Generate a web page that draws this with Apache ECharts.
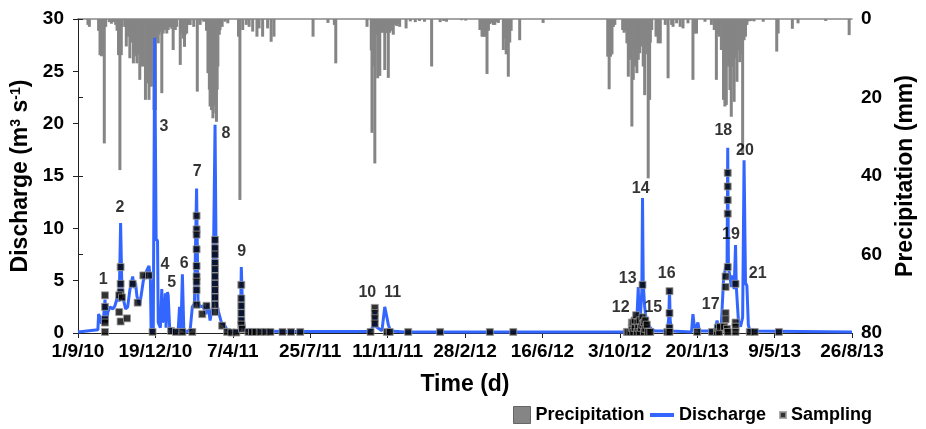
<!DOCTYPE html>
<html>
<head>
<meta charset="utf-8">
<script src="https://cdn.jsdelivr.net/npm/echarts@6/dist/echarts.min.js"></script>
<style>
  html,body{margin:0;padding:0;background:#fff;}
  #chart{width:926px;height:429px;}
</style>
</head>
<body>
<div id="chart"></div>
<script>
// x = days since 1/9/10 ; ticks every 109 days
const tickLabels=['1/9/10','19/12/10','7/4/11','25/7/11','11/11/11','28/2/12','16/6/12','3/10/12','20/1/13','9/5/13','26/8/13'];

// daily precipitation (mm), [day, mm]
const precipitation=[
  [14,1.5],[16,2.0],[29,3.0],[31,9.2],[33,9.5],[35,9.0],[37,31.7],[39,2.0],[44,0.8],[47,1.2],[50,0.8],[53,1.5],[55,3.0],
  [57,9.2],[59,38.5],[61,9.2],[62,2.0],[64,0.3],[66,2.0],[68,7.0],[70,4.5],[71,3.7],[73,10.0],[75,6.0],[76,5.3],[78,11.3],
  [79,9.0],[80,7.9],[82,9.5],[83,11.3],[84,9.0],[85,8.7],[87,15.5],[88,11.0],[89,12.1],[91,10.0],[92,12.1],[93,9.0],[95,20.6],
  [96,14.0],[98,16.4],[99,12.0],[100,20.6],[101,15.0],[102,17.2],[103,12.0],[104,17.2],[105,15.0],[107,23.2],[108,8.0],[109,23.2],
  [110,5.0],[111,3.7],[113,6.2],[114,4.0],[116,3.2],[118,18.9],[120,3.7],[121,2.5],[123,2.8],[125,3.7],[127,2.8],[129,2.0],
  [130,2.0],[132,2.5],[134,7.9],[136,2.5],[137,2.8],[139,2.0],[144,11.7],[146,3.7],[148,5.0],[150,7.1],[151,4.0],[153,3.7],
  [156,1.5],[158,1.5],[163,2.0],[168,18.5],[172,1.5],[177,0.7],[181,3.0],[183,13.8],[185,18.0],[186,22.3],[187,20.0],[188,23.2],
  [189,22.0],[190,25.3],[191,22.0],[193,20.6],[194,24.0],[195,26.2],[196,18.0],[197,12.1],[199,4.0],[200,2.8],[203,2.0],[207,0.7],
  [211,1.1],[226,4.5],[228,46.1],[232,2.8],[237,1.5],[241,2.0],[246,3.2],[252,4.5],[255,2.4],[260,4.5],[267,2.4],[272,5.8],[276,4.5],
  [331,4.5],[352,1.0],[361,1.5],[363,11.3],[407,2.0],[413,8.0],[414,29.0],[416,12.0],[418,36.8],[420,4.0],[422,15.1],[424,4.0],
  [425,14.5],[427,3.5],[429,3.3],[430,3.5],[432,13.0],[434,3.6],[435,3.0],[437,15.0],[439,3.5],[441,3.0],[444,4.0],[447,1.5],
  [449,1.8],[451,1.2],[453,2.0],[462,2.4],[468,0.6],[475,0.8],[481,0.5],[488,0.7],[498,12.1],[510,0.8],[515,0.5],[519,0.7],
  [540,0.3],[546,0.4],[566,2.8],[569,4.5],[571,4.5],[573,4.5],[576,14.0],[578,3.0],[580,1.3],[582,1.0],[585,1.5],[587,1.5],
  [590,0.8],[592,1.0],[599,7.9],[601,5.0],[603,9.0],[605,5.0],[606,14.7],[608,6.0],[610,3.0],[622,5.4],[655,1.0],
  [746,9.6],[748,17.9],[750,9.6],[752,9.0],[754,2.0],[756,1.5],[767,2.8],[769,3.5],[771,3.0],[773,6.2],[775,14.7],[777,10.4],
  [779,8.0],[780,27.4],[782,15.5],[783,10.0],[784,12.1],[786,9.0],[787,13.8],[789,10.4],[790,8.0],[791,8.7],[793,7.0],[794,6.2],
  [796,12.1],[798,19.4],[799,9.0],[801,8.7],[803,40.6],[805,20.6],[806,6.0],[808,2.8],[814,4.5],[817,6.2],[820,6.2],[827,1.5],
  [831,15.1],[836,1.5],[838,2.0],[843,1.1],[848,2.0],[852,2.4],[859,1.1],[866,15.5],[869,3.7],[871,3.7],[883,0.7],[892,1.5],
  [896,2.8],[899,15.5],[901,3.7],[903,4.5],[906,7.9],[909,20.6],[911,22.3],[913,21.9],[915,12.1],[916,8.0],[918,18.1],[920,24.9],
  [922,12.1],[924,21.1],[926,10.0],[928,16.0],[930,8.0],[932,11.0],[934,9.0],[936,34.2],[938,5.4],[940,4.5],[942,1.5],[945,0.6],
  [948,0.5],[952,0.6],[965,0.7],[984,8.3],[986,3.7],[1006,2.5],[1014,1.1],[1053,0.5],[1086,4.1]
];

// discharge (m3 s-1), [day, value]
const discharge=[
  [0,0.1],[28,0.3],[29,1.8],[31,1.5],[33,0.9],[36,1.5],[38,3.2],[40,1.0],[42,2.0],[45,2.5],[49,2.3],[52,2.6],[55,3.3],[57,3.6],
  [58,3.0],[60,10.5],[62,3.5],[64,3.2],[67,2.3],[70,2.5],[73,4.1],[77,5.4],[79,4.3],[81,4.8],[83,3.5],[87,2.7],[92,5.0],[97,6.0],
  [100,6.4],[102,5.0],[103,0.1],[106,0.1],[108,28.2],[110,9.0],[112,8.8],[113,1.0],[116,0.5],[118,4.2],[119,1.0],[121,1.5],
  [123,3.8],[124,0.5],[126,3.9],[127,3.6],[129,0.6],[132,0.1],[141,0.2],[143,2.5],[145,0.3],[147,5.6],[149,0.3],[152,0.1],
  [158,0.3],[161,2.5],[164,2.8],[167,13.8],[169,3.0],[172,2.5],[176,2.6],[180,1.8],[183,2.8],[186,1.2],[190,2.8],[193,19.9],
  [195,3.0],[198,2.0],[202,1.0],[206,0.8],[210,0.3],[214,0.1],[227,0.2],[229,2.0],[230,6.3],[232,1.5],[235,0.3],[240,0.2],
  [300,0.15],[410,0.15],[416,0.6],[418,2.3],[420,0.6],[428,0.2],[432,2.5],[435,1.5],[437,0.8],[440,0.2],[460,0.1],
  [770,0.1],[780,0.4],[784,0.8],[787,1.3],[789,4.4],[790,1.2],[792,1.6],[794,4.0],[795,12.9],[796,4.8],[798,2.5],[800,1.4],
  [803,0.8],[807,0.4],[812,0.2],[830,0.2],[832,1.5],[833,4.2],[834,1.2],[836,0.2],[864,0.1],[866,1.8],[868,0.6],[870,0.4],
  [873,1.0],[875,0.2],[897,0.2],[900,1.2],[902,0.4],[906,0.8],[909,5.0],[912,6.3],[914,6.0],[915,17.7],[916,6.2],[918,5.5],
  [920,4.4],[922,5.5],[924,4.2],[926,8.4],[927,4.5],[930,1.2],[933,0.6],[936,1.5],[938,16.5],[940,4.8],[942,4.5],[944,0.8],
  [946,0.2],[1090,0.1]
];

// sampling times, [day, discharge]
const sampling=[
  [38,3.6],[38,2.5],[38,1.3],[38,1.0],[38,0.1],
  [60,6.3],[60,4.7],[60,3.9],[58,3.6],[62,3.4],[58,2.0],[60,1.1],[69,1.4],[77,4.7],[84,2.9],[92,5.5],[100,5.5],[105,0.1],
  [131,0.2],[138,0.1],[147,0.1],[161,0.1],
  [167,11.2],[167,9.9],[167,9.4],[167,8.0],[167,6.4],[167,5.4],[167,4.9],[167,4.1],[167,2.7],[175,1.8],[181,2.6],
  [193,8.9],[193,8.1],[193,7.5],[193,6.7],[193,6.1],[193,5.4],[193,4.7],[193,4.1],[193,3.4],[193,2.7],[193,2.0],
  [203,0.7],[210,0.1],[216,0.05],[223,0.05],
  [230,4.6],[230,3.3],[230,2.6],[230,1.9],[230,1.2],[230,0.8],[231,0.4],
  [240,0.1],[245,0.1],[250,0.1],[257,0.1],[264,0.1],[271,0.1],[288,0.1],[300,0.1],[313,0.1],
  [412,0.1],[418,2.4],[418,1.9],[418,1.4],[418,0.9],[435,0.1],[439,0.1],[465,0.1],[510,0.1],[580,0.1],[613,0.1],[773,0.1],
  [775,0.1],[778,0.1],[780,0.5],[780,1.0],[782,0.1],[782,1.0],[784,0.5],[784,1.2],[786,1.7],[787,0.1],[788,1.0],[789,0.5],
  [791,0.1],[791,1.2],[793,0.5],[795,4.6],[795,1.5],[795,0.8],[797,0.1],[797,1.0],[799,0.4],[799,1.2],[801,0.8],[803,0.1],[806,0.1],
  [830,0.1],[833,4.0],[833,1.9],[833,0.5],[833,0.1],[872,0.1],
  [893,0.1],[900,0.1],[901,0.5],[903,0.1],[904,0.6],
  [915,15.3],[915,14.0],[915,12.7],[915,11.4],[915,6.3],[912,5.4],[912,4.4],[912,1.9],[912,1.3],[910,0.6],[914,0.4],[915,0.1],
  [926,4.7],[926,1.0],[926,0.6],[926,0.1],[946,0.1],[953,0.1],[987,0.1]
];

// event numbers, [day, discharge, text]
const events=[
  [35.6,5.06,'1'],[59.1,11.94,'2'],[121.1,19.68,'3'],[122.5,6.5,'4'],[132,4.78,'5'],[149.4,6.59,'6'],[168,15.41,'7'],
  [208.4,19.01,'8'],[230.5,7.77,'9'],[407.4,3.85,'10'],[443.2,3.85,'11'],[764.3,2.46,'12'],[774.1,5.23,'13'],
  [792.4,13.76,'14'],[810.2,2.46,'15'],[829.1,5.7,'16'],[891,2.68,'17'],[908.8,19.3,'18'],[919.6,9.43,'19'],
  [939.3,17.42,'20'],[957.2,5.64,'21']
];

const FONT='"Liberation Sans", Arial, sans-serif';
const chart=echarts.init(document.getElementById('chart'));
const axisLbl={color:'#000',fontSize:19,fontWeight:'bold',fontFamily:FONT};
const titleTxt={color:'#000',fontSize:23,fontWeight:'bold',fontFamily:FONT};
const legendTxt={color:'#000',fontSize:18,fontWeight:'bold',fontFamily:FONT};

chart.setOption({
  animation:false,
  textStyle:{fontFamily:FONT},
  grid:{left:78,right:74,top:19,bottom:96},
  legend:[
    {data:['Precipitation'],left:513,top:406,padding:0,icon:'rect',itemWidth:17,itemHeight:17,textStyle:legendTxt,
     itemStyle:{borderColor:'#666',borderWidth:1}},
    {data:['Discharge'],left:650,top:406,padding:0,icon:'rect',itemWidth:24,itemHeight:4,textStyle:legendTxt},
    {data:['Sampling'],left:779,top:406,padding:0,icon:'rect',itemWidth:6,itemHeight:6,textStyle:legendTxt}
  ],
  xAxis:[
    {type:'value',min:0,max:1090,interval:109,
     name:'Time (d)',nameLocation:'middle',nameGap:40,nameTextStyle:titleTxt,
     axisLine:{lineStyle:{color:'#222',width:1}},
     axisTick:{show:true,length:5,lineStyle:{color:'#222'}},
     axisLabel:Object.assign({margin:9,showMinLabel:true,showMaxLabel:true,
       formatter:v=>tickLabels[Math.round(v/109)]||''},axisLbl),
     splitLine:{show:false}},
    {type:'value',position:'top',min:0,max:1090,
     axisLine:{show:true,lineStyle:{color:'#888',width:1.5}},
     axisTick:{show:false},axisLabel:{show:false},splitLine:{show:false}}
  ],
  yAxis:[
    {type:'value',min:0,max:30,interval:5,position:'left',
     name:'{t|Discharge (m}{s|3}{t| s}{s|-1}{t|)}',nameLocation:'middle',nameGap:45,
     nameTextStyle:{rich:{
       t:titleTxt,
       s:{color:'#000',fontSize:14,fontWeight:'bold',fontFamily:FONT,verticalAlign:'top'}}},
     axisLine:{show:true,lineStyle:{color:'#222'}},
     axisTick:{show:true,length:5,lineStyle:{color:'#222'}},
     axisLabel:Object.assign({margin:14},axisLbl),
     splitLine:{show:false}},
    {type:'value',min:0,max:80,interval:20,inverse:true,position:'right',
     name:'Precipitation (mm)',nameLocation:'middle',nameGap:42,nameTextStyle:titleTxt,
     axisLine:{show:true,lineStyle:{color:'#222'}},
     axisTick:{show:true,length:5,lineStyle:{color:'#222'}},
     axisLabel:Object.assign({margin:9},axisLbl),
     splitLine:{show:false}}
  ],
  series:[
    {name:'Precipitation',type:'bar',xAxisIndex:0,yAxisIndex:1,barWidth:3,
     itemStyle:{color:'#858585'},data:precipitation,z:1},
    {name:'Discharge',type:'line',xAxisIndex:0,yAxisIndex:0,showSymbol:false,
     lineStyle:{color:'#3366ff',width:3},itemStyle:{color:'#3366ff'},data:discharge,z:2},
    {name:'Sampling',type:'scatter',xAxisIndex:0,yAxisIndex:0,symbol:'rect',symbolSize:7,
     itemStyle:{color:'#000',borderColor:'#9a9a9a',borderWidth:1},data:sampling,z:3},
    {name:'events',type:'scatter',xAxisIndex:0,yAxisIndex:0,symbolSize:1,
     itemStyle:{color:'rgba(0,0,0,0)'},
     label:{show:true,position:'inside',formatter:p=>p.data[2],
       color:'#000',fontSize:16,fontWeight:'bold',fontFamily:FONT},
     data:events,z:4}
  ]
});
</script>
</body>
</html>
